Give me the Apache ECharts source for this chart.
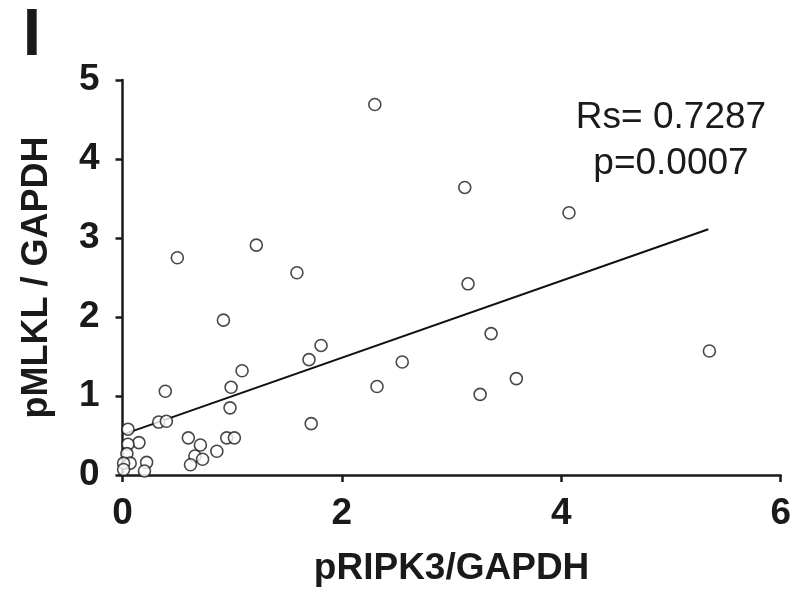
<!DOCTYPE html>
<html>
<head>
<meta charset="utf-8">
<script src="https://cdn.jsdelivr.net/npm/echarts@6/dist/echarts.min.js"></script>
<style>
html,body{margin:0;padding:0;background:#fff;}
#chart{width:794px;height:592px;}
</style>
</head>
<body>
<div id="chart"></div>
<script>
// pRIPK3/GAPDH (x) vs pMLKL/GAPDH (y)
var xValues = [2.30, 3.12, 4.07, 0.50, 1.22, 1.59, 3.15, 0.92, 3.36, 1.81,
               1.70, 2.55, 5.35, 1.09, 0.99, 0.39, 2.32, 3.59, 3.26, 0.98,
               1.72, 0.33, 0.40, 0.05, 0.60, 0.95, 1.02, 0.71, 0.66, 0.73,
               0.62, 0.86, 0.15, 0.05, 0.04, 0.22, 0.20, 0.07, 0.01, 0.01];
var yValues = [4.69, 3.64, 3.32, 2.75, 2.91, 2.56, 2.42, 1.96, 1.79, 1.64,
               1.46, 1.43, 1.57, 1.32, 1.11, 1.06, 1.12, 1.22, 1.02, 0.85,
               0.65, 0.67, 0.68, 0.58, 0.47, 0.47, 0.47, 0.38, 0.24, 0.20,
               0.13, 0.30, 0.41, 0.39, 0.27, 0.16, 0.05, 0.15, 0.15, 0.07];
var fitLine = [[0.02, 0.52], [5.34, 3.11]];
var xTicks = [0, 2, 4, 6];
var yTicks = [0, 1, 2, 3, 4, 5];
var statsText = ['Rs= 0.7287', 'p=0.0007'];
var panelLetter = 'I';
var xTitle = 'pRIPK3/GAPDH';
var yTitle = 'pMLKL / GAPDH';

var points = xValues.map(function (x, i) { return [x, yValues[i]]; });
var FONT = '"Liberation Sans", Arial, Helvetica, sans-serif';

var chart = echarts.init(document.getElementById('chart'), null, {renderer: 'canvas'});
chart.setOption({
  animation: false,
  backgroundColor: '#fff',
  grid: {left: 122.5, right: 11.3, top: 80, bottom: 116.5, containLabel: false},
  xAxis: {
    type: 'value', min: xTicks[0], max: xTicks[xTicks.length - 1], interval: 2,
    name: xTitle, nameLocation: 'middle', nameGap: 75,
    nameTextStyle: {fontFamily: FONT, fontWeight: 'bold', fontSize: 37, color: '#1a1a1a'},
    axisLine: {onZero: false, lineStyle: {color: '#1a1a1a', width: 2.5}},
    axisTick: {show: true, inside: false, length: 7, lineStyle: {color: '#1a1a1a', width: 2.5}},
    axisLabel: {margin: 20, fontFamily: FONT, fontWeight: 'bold', fontSize: 37, color: '#1a1a1a'},
    splitLine: {show: false}
  },
  yAxis: {
    type: 'value', min: yTicks[0], max: yTicks[yTicks.length - 1], interval: 1,
    name: yTitle, nameLocation: 'middle', nameGap: 67, nameRotate: 90,
    nameTextStyle: {fontFamily: FONT, fontWeight: 'bold', fontSize: 36, color: '#1a1a1a'},
    axisLine: {onZero: false, lineStyle: {color: '#1a1a1a', width: 2.5}},
    axisTick: {show: true, inside: false, length: 7, lineStyle: {color: '#1a1a1a', width: 2.5}},
    axisLabel: {margin: 23, fontFamily: FONT, fontWeight: 'bold', fontSize: 37, color: '#1a1a1a'},
    splitLine: {show: false}
  },
  series: [
    {
      type: 'line', data: fitLine, symbol: 'none', silent: true,
      lineStyle: {color: '#111', width: 2}, z: 2
    },
    {
      type: 'scatter', data: points, symbol: 'circle', symbolSize: 12,
      itemStyle: {color: '#fff', borderColor: '#1a1a1a', borderWidth: 1.6}, z: 3
    }
  ],
  graphic: [
    {type: 'text', x: 32, y: 37, z: 10,
     style: {text: panelLetter, fontSize: 66, fontWeight: 'bold', fontFamily: FONT,
             fill: '#1a1a1a', align: 'center', verticalAlign: 'middle'}},
    {type: 'text', x: 671, y: 118, z: 10,
     style: {text: statsText[0], fontSize: 37, fontFamily: FONT, fill: '#1a1a1a',
             align: 'center', verticalAlign: 'middle'}},
    {type: 'text', x: 671, y: 164, z: 10,
     style: {text: statsText[1], fontSize: 37, fontFamily: FONT, fill: '#1a1a1a',
             align: 'center', verticalAlign: 'middle'}}
  ]
});
</script>
</body>
</html>
